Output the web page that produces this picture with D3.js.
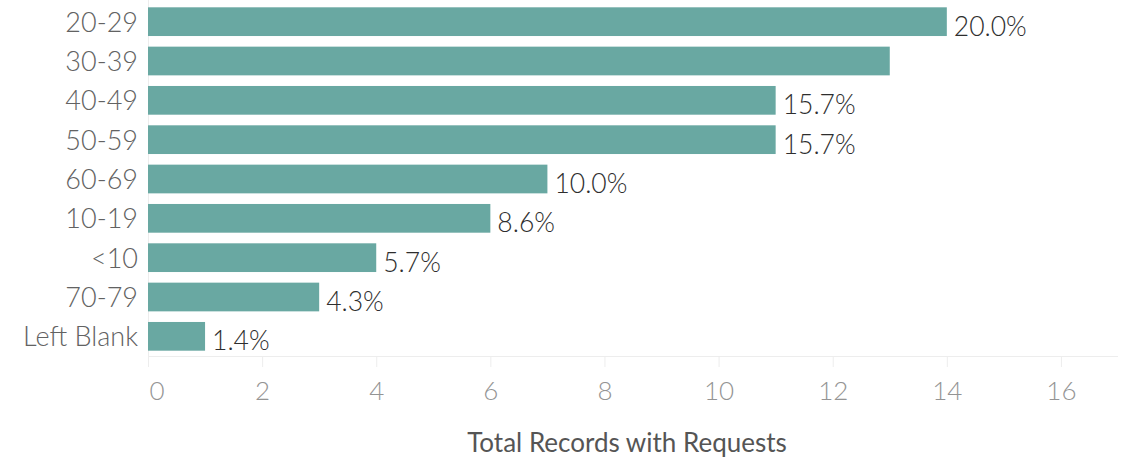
<!DOCTYPE html>
<html><head><meta charset="utf-8">
<script src="https://cdn.jsdelivr.net/npm/d3@7"></script>
<style>body{margin:0;background:#fff;}svg{display:block;}</style>
</head><body>
<svg id="c" width="1121" height="458"></svg>
<script>
const categories = ["20-29","30-39","40-49","50-59","60-69","10-19","<10","70-79","Left Blank"];
const values = [14,13,11,11,7,6,4,3,1];
const pctLabels = ["20.0%","","15.7%","15.7%","10.0%","8.6%","5.7%","4.3%","1.4%"];
const tickValues = [0,2,4,6,8,10,12,14,16];
const axisTitle = "Total Records with Requests";

const FONT = "Lato, 'Open Sans', sans-serif";
const svg = d3.select("#c");
const x = d3.scaleLinear().domain([0,17]).range([148,1118]);
const y = d3.scaleBand().domain(categories).range([2,356]).paddingInner(0.27).paddingOuter(0.135);

// zero line
svg.append("line").attr("x1",x(0)+0.5).attr("x2",x(0)+0.5).attr("y1",0).attr("y2",356)
  .attr("stroke","#ededed").attr("stroke-width",1);

// bars
svg.selectAll("rect.bar").data(categories).join("rect").attr("class","bar")
  .attr("x",x(0)).attr("y",d=>y(d))
  .attr("width",(d,i)=>x(values[i])-x(0)).attr("height",y.bandwidth())
  .attr("fill","#69a8a2");

// value labels
svg.selectAll("text.val").data(categories).join("text").attr("class","val")
  .attr("x",(d,i)=>x(values[i])+7).attr("y",d=>y(d)+y.bandwidth()/2+14)
  .attr("font-family",FONT).attr("font-size",26.5).attr("font-weight",300)
  .attr("fill","#2e2e2e").text((d,i)=>pctLabels[i]);

// y axis labels
const ya = svg.append("g").attr("transform",`translate(${x(0)},0)`)
  .call(d3.axisLeft(y).tickSize(0).tickPadding(10));
ya.select(".domain").remove();
ya.selectAll("text").attr("dy",null).attr("y",10)
  .attr("font-family",FONT).attr("font-size",27).attr("font-weight",300).attr("fill","#626262");

// x axis
const xa = svg.append("g").attr("transform","translate(0,356)")
  .call(d3.axisBottom(x).tickValues(tickValues).tickSize(11).tickPadding(8).tickFormat(d3.format("d")));
xa.select(".domain").attr("stroke","#ededed").attr("d",`M${x(0)},0.5H1118`);
xa.selectAll(".tick line").attr("stroke","#ededed");
xa.selectAll("text").attr("dy",null).attr("y",44)
  .attr("font-family",FONT).attr("font-size",26).attr("font-weight",300).attr("fill","#949494");
xa.selectAll(".tick").filter(d=>d===0).select("text").attr("text-anchor","start").attr("x",1);

svg.append("text").attr("x",627).attr("y",451.5)
  .attr("text-anchor","middle").attr("font-family",FONT).attr("font-size",26)
  .attr("fill","#555").text(axisTitle);
</script>
</body></html>
